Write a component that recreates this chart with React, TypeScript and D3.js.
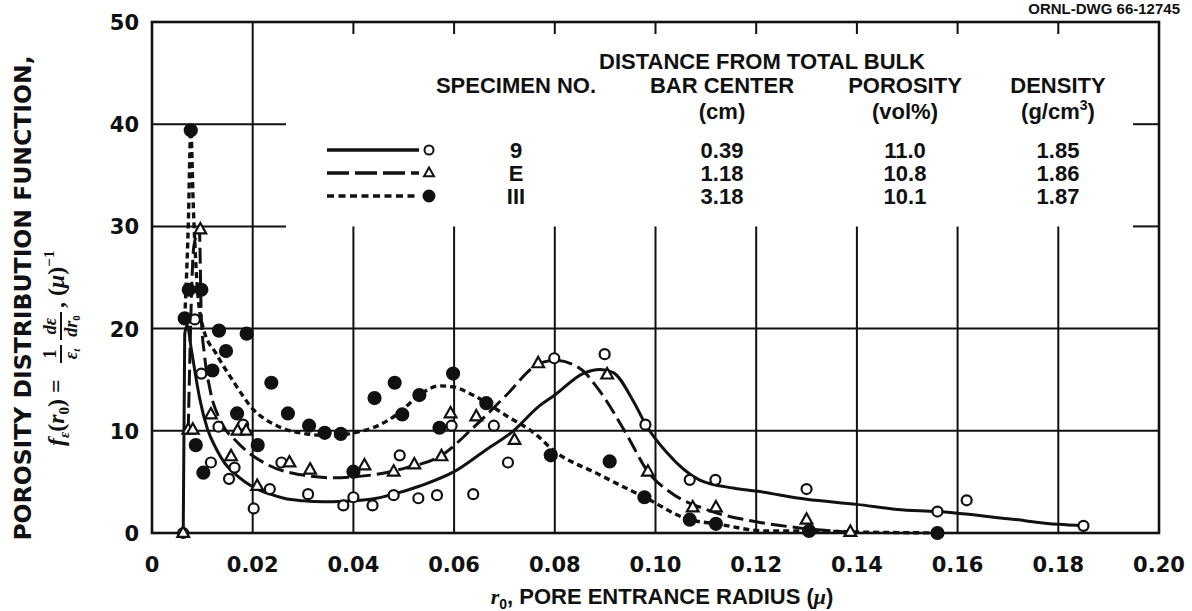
import * as d3 from 'd3';

// specimen 9 – open circles, solid line
const spec9Points: [number, number][] = [
  [0.0062, 0], [0.0085, 20.9], [0.0098, 15.6], [0.0117, 6.9], [0.0132, 10.4], [0.0153, 5.3],
  [0.0164, 6.4], [0.0181, 10.6], [0.0202, 2.4], [0.0234, 4.3], [0.0257, 6.9], [0.031, 3.8],
  [0.038, 2.7], [0.04, 3.5], [0.0438, 2.7], [0.048, 3.7], [0.0492, 7.6], [0.0529, 3.4],
  [0.0566, 3.7], [0.0595, 10.5], [0.0638, 3.8], [0.0679, 10.5], [0.0707, 6.9], [0.0799, 17.1],
  [0.0899, 17.5], [0.098, 10.6], [0.1068, 5.2], [0.1119, 5.2], [0.13, 4.3], [0.156, 2.1],
  [0.1618, 3.2], [0.185, 0.7],
];
const spec9Curve: [number, number][] = [
  [0.0062, 0], [0.0065, 19.5], [0.007, 20.3], [0.0078, 18], [0.0088, 15], [0.0095, 13.1],
  [0.011, 10.2], [0.0128, 8.2], [0.0145, 6.8], [0.0162, 5.9], [0.0185, 5.0], [0.0209, 4.3],
  [0.0235, 3.8], [0.0262, 3.4], [0.03, 3.15], [0.034, 3.05], [0.038, 3.1], [0.0446, 3.4],
  [0.048, 3.8], [0.0532, 4.6], [0.06, 6.0], [0.0665, 8.2], [0.0718, 10.0], [0.0766, 12.3],
  [0.08, 13.5], [0.0856, 15.6], [0.089, 16.0], [0.0916, 15.7], [0.0956, 12.9], [0.0982, 10.5],
  [0.1022, 7.9], [0.1087, 5.2], [0.1154, 4.4], [0.12, 4.1], [0.13, 3.3], [0.14, 2.8],
  [0.148, 2.3], [0.156, 2.1], [0.17, 1.4], [0.18, 0.85], [0.185, 0.7],
];

// specimen E – open triangles, dashed line
const specEPoints: [number, number][] = [
  [0.0062, 0], [0.0072, 10.1], [0.0081, 10.1], [0.0096, 29.7], [0.0117, 11.6], [0.0157, 7.5],
  [0.017, 10.0], [0.0187, 10.0], [0.0209, 4.6], [0.0273, 6.9], [0.0314, 6.2], [0.0422, 6.6],
  [0.048, 6.0], [0.0521, 6.7], [0.0575, 7.5], [0.0593, 11.7], [0.0644, 11.4], [0.072, 9.1],
  [0.0767, 16.6], [0.0904, 15.5], [0.0985, 6.0], [0.1074, 2.5], [0.112, 2.5], [0.13, 1.3],
  [0.1387, 0.1],
];
const specECurve: [number, number][] = [
  [0.0072, 10.1], [0.0083, 28], [0.0094, 29.7], [0.0098, 21], [0.0104, 17.5], [0.0115, 14.1],
  [0.0138, 10.8], [0.0169, 8.9], [0.0229, 6.7], [0.0296, 5.7], [0.0362, 5.4], [0.04, 5.5],
  [0.044, 5.7], [0.0506, 6.4], [0.0572, 7.5], [0.0638, 10.3], [0.0704, 13.5], [0.0766, 16.5],
  [0.08, 16.9], [0.085, 16.1], [0.0889, 13.9], [0.0942, 9.7], [0.0985, 6.0], [0.1035, 3.8],
  [0.1101, 2.3], [0.12, 1.1], [0.1286, 0.5], [0.1387, 0.07],
];

// specimen III – filled circles, dotted line
const specIIIPoints: [number, number][] = [
  [0.0065, 21], [0.0073, 23.8], [0.0077, 39.4], [0.0087, 8.6], [0.0098, 23.8], [0.0102, 5.9],
  [0.012, 15.9], [0.0133, 19.8], [0.0147, 17.8], [0.0169, 11.7], [0.0188, 19.5], [0.021, 8.6],
  [0.0237, 14.7], [0.027, 11.7], [0.0312, 10.5], [0.0343, 9.8], [0.0375, 9.7], [0.04, 6.0],
  [0.0442, 13.2], [0.0482, 14.7], [0.0497, 11.6], [0.0531, 13.5], [0.0571, 10.3], [0.0598, 15.6],
  [0.0664, 12.7], [0.0792, 7.6], [0.0909, 7.0], [0.0978, 3.5], [0.1068, 1.3], [0.112, 0.9],
  [0.1305, 0.2], [0.156, 0],
];
const specIIICurve: [number, number][] = [
  [0.0065, 21], [0.0072, 30], [0.0077, 39.4], [0.0082, 32], [0.009, 24], [0.0102, 20],
  [0.0128, 17.5], [0.0162, 14.8], [0.0201, 12.1], [0.0248, 10.5], [0.0294, 9.8], [0.0361, 9.5],
  [0.04, 9.8], [0.0439, 10.3], [0.0492, 11.8], [0.0531, 13.5], [0.0571, 14.4], [0.0598, 14.3],
  [0.0637, 13.5], [0.0703, 11.5], [0.0766, 9.5], [0.0792, 8.3], [0.0889, 5.7], [0.0978, 3.5],
  [0.1068, 1.3], [0.112, 0.9], [0.122, 0.2], [0.1305, 0.2], [0.14, 0.1], [0.156, 0],
];

const xTicks = [0, 0.02, 0.04, 0.06, 0.08, 0.1, 0.12, 0.14, 0.16, 0.18, 0.2];
const yTicks = [0, 10, 20, 30, 40, 50];

const tableHeads = ['SPECIMEN NO.', 'BAR CENTER', 'POROSITY', 'DENSITY'];
const tableUnits = ['', '(cm)', '(vol%)', '(g/cm'];
const specimenNames = ['9', 'E', 'III'];
const barCenter = ['0.39', '1.18', '3.18'];
const porosity = ['11.0', '10.8', '10.1'];
const density = ['1.85', '1.86', '1.87'];

const W = 1192;
const H = 611;
const x = d3.scaleLinear().domain([0, 0.2]).range([152, 1159]);
const y = d3.scaleLinear().domain([0, 50]).range([533, 22]);

const line = d3
  .line<[number, number]>()
  .x((d) => x(d[0]))
  .y((d) => y(d[1]))
  .curve(d3.curveMonotoneX);

const INK = '#111';
const tickFont = '"DejaVu Sans", sans-serif';
const tabFont = '"Liberation Sans", Arial, sans-serif';
const DASH = '16 6';
const DOT = '6 4';

const tri = (cx: number, cy: number, s: number) =>
  `M${cx},${cy - s}L${cx + s * 0.9},${cy + s * 0.6}L${cx - s * 0.9},${cy + s * 0.6}Z`;

const colX = [516, 722, 905, 1058];
const rowY = [150, 173, 196];

export default function App() {
  const left = x(0);
  const right = x(0.2);
  const legendGapL = 286;
  const legendGapR = 1133;

  return (
    <svg
      width={W}
      height={H}
      style={{ position: 'absolute', left: 0, top: 0, background: '#fff' }}
    >
      <rect width={W} height={H} fill="#fff" />
      <text x={1180} y={14} textAnchor="end" fontFamily={tabFont} fontSize={15} fontWeight="bold" fill={INK}>
        ORNL-DWG 66-12745
      </text>

      {/* grid, broken around the legend table */}
      <g stroke={INK} strokeWidth={2}>
        {yTicks.slice(1, 5).map((t) =>
          t >= 30 ? (
            <g key={t}>
              <line x1={left} x2={legendGapL} y1={y(t)} y2={y(t)} />
              <line x1={legendGapR} x2={right} y1={y(t)} y2={y(t)} />
            </g>
          ) : (
            <line key={t} x1={left} x2={right} y1={y(t)} y2={y(t)} />
          )
        )}
        {xTicks.slice(1, 10).map((t) =>
          t < 0.03 ? (
            <line key={t} x1={x(t)} x2={x(t)} y1={y(50)} y2={y(0)} />
          ) : (
            <g key={t}>
              <line x1={x(t)} x2={x(t)} y1={y(50)} y2={y(50) + 12} />
              <line x1={x(t)} x2={x(t)} y1={y(30)} y2={y(0)} />
            </g>
          )
        )}
      </g>
      <rect
        x={left}
        y={y(50)}
        width={right - left}
        height={y(0) - y(50)}
        fill="none"
        stroke={INK}
        strokeWidth={2.6}
      />

      {/* tick labels */}
      <g fontFamily={tickFont} fontWeight="bold" fontSize={21} fill={INK}>
        {yTicks.map((t) => (
          <text key={t} x={139} y={y(t) + 8} textAnchor="end">
            {t}
          </text>
        ))}
        {xTicks.map((t) => (
          <text key={t} x={x(t)} y={572} textAnchor="middle">
            {t === 0 ? '0' : d3.format('.2f')(t)}
          </text>
        ))}
      </g>

      {/* axis titles */}
      <text x={662} y={604} textAnchor="middle" fontFamily={tabFont} fontWeight="bold" fontSize={22} fill={INK}>
        <tspan fontStyle="italic" fontFamily='"Liberation Serif", serif'>r</tspan>
        <tspan fontSize={14} dy={5}>0</tspan>
        <tspan dy={-5}>, PORE ENTRANCE RADIUS (</tspan>
        <tspan fontStyle="italic" fontFamily='"Liberation Serif", serif'>μ</tspan>
        <tspan>)</tspan>
      </text>
      <text
        transform="translate(31,298) rotate(-90)"
        textAnchor="middle"
        fontFamily={tickFont}
        fontWeight="bold"
        fontSize={23.5}
        fill={INK}
      >
        POROSITY DISTRIBUTION FUNCTION,
      </text>
      <g transform="translate(64,326) rotate(-90)" fill={INK} fontFamily='"Liberation Serif", serif' fontWeight="bold">
        <text x={-120} y={0} fontSize={24}>
          <tspan fontStyle="italic">f</tspan>
          <tspan fontStyle="italic" fontSize={15} dy={5}>ε</tspan>
          <tspan dy={-5}>(</tspan>
          <tspan fontStyle="italic">r</tspan>
          <tspan fontSize={15} dy={5}>0</tspan>
          <tspan dy={-5}>) =</tspan>
        </text>
        <text x={-28} y={-8} fontSize={18} textAnchor="middle">1</text>
        <line x1={-37} x2={-19} y1={-3} y2={-3} stroke={INK} strokeWidth={2} />
        <text x={-28} y={13} fontSize={18} textAnchor="middle" fontStyle="italic">
          ε<tspan fontSize={11} dy={3}>t</tspan>
        </text>
        <text x={0} y={-8} fontSize={18} textAnchor="middle" fontStyle="italic">dε</text>
        <line x1={-14} x2={14} y1={-3} y2={-3} stroke={INK} strokeWidth={2} />
        <text x={0} y={13} fontSize={18} textAnchor="middle" fontStyle="italic">
          dr<tspan fontSize={11} dy={3} fontStyle="normal">0</tspan>
        </text>
        <text x={18} y={0} fontSize={24}>
          , (<tspan fontStyle="italic">μ</tspan>)<tspan fontSize={15} dy={-10}>−1</tspan>
        </text>
      </g>

      {/* curves */}
      <g fill="none" stroke={INK} strokeWidth={3}>
        <path d={line(spec9Curve) ?? ''} />
        <path d={line(specECurve) ?? ''} strokeDasharray={DASH} />
        <path d={line(specIIICurve) ?? ''} strokeDasharray={DOT} strokeWidth={3.4} />
      </g>

      {/* markers */}
      <g stroke={INK} strokeWidth={2.2}>
        {spec9Points.map((d, i) => (
          <circle key={'o' + i} cx={x(d[0])} cy={y(d[1])} r={5} fill="#fff" />
        ))}
        {specEPoints.map((d, i) => (
          <path key={'t' + i} d={tri(x(d[0]), y(d[1]), 6.5)} fill="#fff" />
        ))}
        {specIIIPoints.map((d, i) => (
          <circle key={'f' + i} cx={x(d[0])} cy={y(d[1])} r={6} fill={INK} />
        ))}
      </g>

      {/* legend table */}
      <g fontFamily={tabFont} fontWeight="bold" fontSize={22} fill={INK} textAnchor="middle">
        <text x={762} y={69}>DISTANCE FROM TOTAL BULK</text>
        {tableHeads.map((h, i) => (
          <text key={h} x={colX[i]} y={93}>{h}</text>
        ))}
        {tableUnits.map((u, i) =>
          u ? (
            <text key={u} x={colX[i]} y={119}>
              {u}
              {i === 3 ? (
                <>
                  <tspan fontSize={14} dy={-9}>3</tspan>
                  <tspan dy={9}>)</tspan>
                </>
              ) : null}
            </text>
          ) : null
        )}
        {specimenNames.map((n, i) => (
          <g key={n}>
            <text x={colX[0]} y={rowY[i] + 8}>{n}</text>
            <text x={colX[1]} y={rowY[i] + 8}>{barCenter[i]}</text>
            <text x={colX[2]} y={rowY[i] + 8}>{porosity[i]}</text>
            <text x={colX[3]} y={rowY[i] + 8}>{density[i]}</text>
          </g>
        ))}
      </g>
      <g stroke={INK} strokeWidth={3.4} fill="none">
        <line x1={327} x2={419} y1={rowY[0]} y2={rowY[0]} />
        <line x1={327} x2={419} y1={rowY[1]} y2={rowY[1]} strokeDasharray="22 6" />
        <line x1={327} x2={419} y1={rowY[2]} y2={rowY[2]} strokeDasharray="7 4.5" />
      </g>
      <g stroke={INK} strokeWidth={2}>
        <circle cx={429} cy={rowY[0]} r={4.5} fill="#fff" />
        <path d={tri(429, rowY[1], 5.5)} fill="#fff" />
        <circle cx={429} cy={rowY[2]} r={5.5} fill={INK} />
      </g>
    </svg>
  );
}
